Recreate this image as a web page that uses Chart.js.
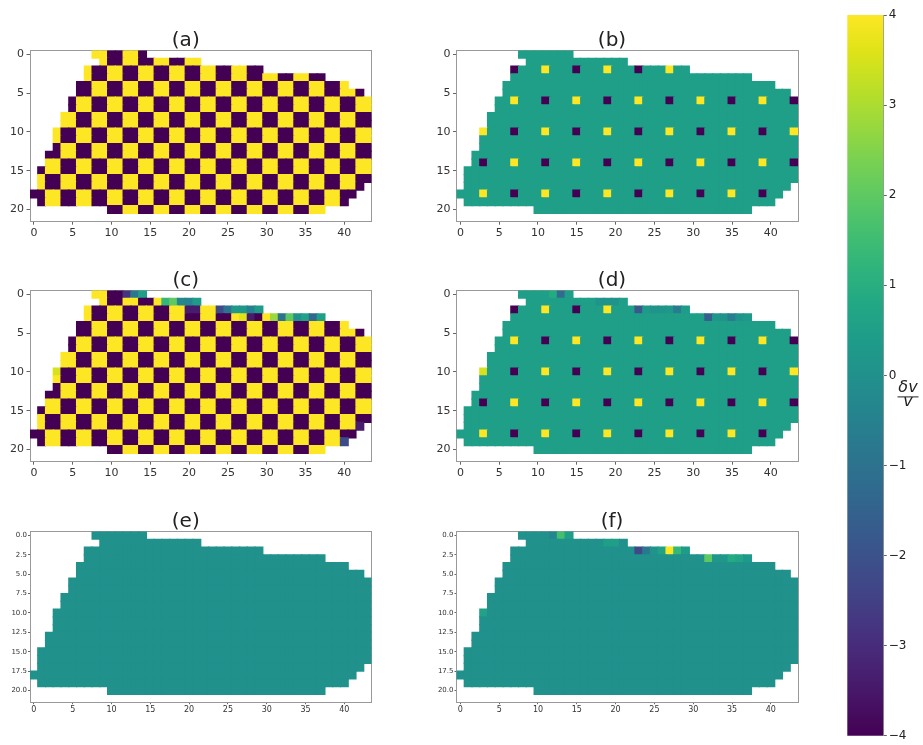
<!DOCTYPE html>
<html>
<head>
<meta charset="utf-8">
<script src="https://cdn.jsdelivr.net/npm/chart.js@4.4.1/dist/chart.umd.min.js"></script>
<style>
  html, body { margin: 0; padding: 0; background: #fff; }
  body { width: 923px; height: 745px; position: relative; overflow: hidden; }
  canvas { position: absolute; }
</style>
</head>
<body>
<canvas id="pa" width="390" height="225" style="left:0px;top:20px"></canvas>
<canvas id="pb" width="390" height="225" style="left:426px;top:20px"></canvas>
<canvas id="pc" width="390" height="225" style="left:0px;top:260px"></canvas>
<canvas id="pd" width="390" height="225" style="left:426px;top:260px"></canvas>
<canvas id="pe" width="390" height="225" style="left:0px;top:501px"></canvas>
<canvas id="pf" width="390" height="225" style="left:426px;top:501px"></canvas>
<canvas id="cbar" width="83" height="745" style="left:840px;top:0px"></canvas>
<script>
// first filled column of each row (rows 0..20), last filled column
const rowStart = [8, 9, 7, 7, 6, 6, 5, 5, 4, 4, 3, 3, 3, 2, 2, 1, 1, 1, 0, 1, 10]
const rowEnd = [14, 21, 29, 37, 40, 42, 43, 43, 43, 43, 43, 43, 43, 43, 43, 43, 43, 42, 41, 40, 37]

// (a) checkerboard, Y = +4, P = -4, each string starts at rowStart
const checkerRows = [
  "YYPPYYP",
  "YPPYYPPYYPPYY",
  "YPPYYPPYYPPYYPPYYPPYYPP",
  "YPPYYPPYYPPYYPPYYPPYYPPYYPPYYPP",
  "PPYYPPYYPPYYPPYYPPYYPPYYPPYYPPYYPPY",
  "PPYYPPYYPPYYPPYYPPYYPPYYPPYYPPYYPPYYP",
  "PYYPPYYPPYYPPYYPPYYPPYYPPYYPPYYPPYYPPYY",
  "PYYPPYYPPYYPPYYPPYYPPYYPPYYPPYYPPYYPPYY",
  "YYPPYYPPYYPPYYPPYYPPYYPPYYPPYYPPYYPPYYPP",
  "YYPPYYPPYYPPYYPPYYPPYYPPYYPPYYPPYYPPYYPP",
  "YPPYYPPYYPPYYPPYYPPYYPPYYPPYYPPYYPPYYPPYY",
  "YPPYYPPYYPPYYPPYYPPYYPPYYPPYYPPYYPPYYPPYY",
  "PYYPPYYPPYYPPYYPPYYPPYYPPYYPPYYPPYYPPYYPP",
  "PPYYPPYYPPYYPPYYPPYYPPYYPPYYPPYYPPYYPPYYPP",
  "YYPPYYPPYYPPYYPPYYPPYYPPYYPPYYPPYYPPYYPPYY",
  "PYYPPYYPPYYPPYYPPYYPPYYPPYYPPYYPPYYPPYYPPYY",
  "YPPYYPPYYPPYYPPYYPPYYPPYYPPYYPPYYPPYYPPYYPP",
  "YPPYYPPYYPPYYPPYYPPYYPPYYPPYYPPYYPPYYPPYYP",
  "PPYYPPYYPPYYPPYYPPYYPPYYPPYYPPYYPPYYPPYYPP",
  "PYYPPYYPPYYPPYYPPYYPPYYPPYYPPYYPPYYPPYYP",
  "PPYYPPYYPPYYPPYYPPYYPPYYPPYY"
]
const checkerValue = { Y: 4, P: -4 }

// (c) = checkerboard with these cells changed  [row, col, value]
const cSpots = [
  [0, 12, -2.8], [0, 13, -0.8], [0, 14, 0.5],
  [1, 17, 1.3], [1, 18, 2.0], [1, 19, -0.3], [1, 20, -0.4], [1, 21, 0.4],
  [2, 20, -3.4], [2, 21, -3.4], [2, 24, -2.2], [2, 25, -1.0], [2, 26, 0.3], [2, 27, 0.2], [2, 28, -0.5], [2, 29, 0.4],
  [3, 27, 3.6], [3, 28, -3.4], [3, 31, 2.8], [3, 32, -1.0], [3, 33, 2.0], [3, 34, 0.0], [3, 35, 0.6], [3, 36, -1.3], [3, 37, 0.5],
  [10, 3, 3.5], [17, 42, -3.4], [19, 40, -2.2]
]

// (b) flat background with isolated spots
const bBase = 0.5
const bSpots = [
  [2, 7, -4], [2, 11, 4], [2, 15, -4], [2, 19, 4], [2, 23, -4], [2, 27, 4],
  [6, 7, 4], [6, 11, -4], [6, 15, 4], [6, 19, -4], [6, 23, 4], [6, 27, -4], [6, 31, 4], [6, 35, -4], [6, 39, 4], [6, 43, -4],
  [10, 3, 4], [10, 7, -4], [10, 11, 4], [10, 15, -4], [10, 19, 4], [10, 23, -4], [10, 27, 4], [10, 31, -4], [10, 35, 4], [10, 39, -4], [10, 43, 4],
  [14, 3, -4], [14, 7, 4], [14, 11, -4], [14, 15, 4], [14, 19, -4], [14, 23, 4], [14, 27, -4], [14, 31, 4], [14, 35, -4], [14, 39, 4], [14, 43, -4],
  [18, 3, 4], [18, 7, -4], [18, 11, 4], [18, 15, -4], [18, 19, 4], [18, 23, -4], [18, 27, 4], [18, 31, -4], [18, 35, 4], [18, 39, -4]
]

// (d)
const dBase = 0.5
const dSpots = [
  [0, 12, 0.9], [0, 13, -1.2],
  [1, 18, 0.1], [1, 19, 0.1], [1, 20, 0.1],
  [2, 7, -4], [2, 11, 4], [2, 15, -4], [2, 19, 4], [2, 23, -1.8], [2, 24, 0.3], [2, 25, 0.1], [2, 26, 0.1], [2, 27, 0.2], [2, 28, -0.7], [2, 29, 0.4],
  [3, 32, -1.6], [3, 33, 0.2], [3, 34, 0.1], [3, 35, -0.6], [3, 36, 0.1], [3, 37, 0.3],
  [6, 7, 4], [6, 11, -4], [6, 15, 4], [6, 19, -4], [6, 23, 4], [6, 27, -4], [6, 31, 4], [6, 35, -4], [6, 39, 4], [6, 43, -4],
  [10, 3, 3.5], [10, 7, -4], [10, 11, 4], [10, 15, -4], [10, 19, 4], [10, 23, -4], [10, 27, 4], [10, 31, -4], [10, 35, 4], [10, 39, -4], [10, 43, 4],
  [14, 3, -4], [14, 7, 4], [14, 11, -4], [14, 15, 4], [14, 19, -4], [14, 23, 4], [14, 27, -4], [14, 31, 4], [14, 35, -4], [14, 39, 4], [14, 43, -4],
  [18, 3, 4], [18, 7, -4], [18, 11, 4], [18, 15, -4], [18, 19, 4], [18, 23, -4], [18, 27, 4], [18, 31, -4], [18, 35, 4], [18, 39, -4]
]

// (e)
const eBase = 0
const eSpots = []

// (f)
const fBase = 0
const fSpots = [
  [0, 12, -0.3], [0, 13, 1.6], [0, 14, 0.5],
  [1, 19, 0.5], [1, 20, 0.5],
  [2, 23, -2.3], [2, 24, -0.8], [2, 25, 0.1], [2, 26, 0.6], [2, 27, 4], [2, 28, 1.3], [2, 29, 0.4],
  [3, 32, 2.0], [3, 33, 0.2], [3, 34, 0.2], [3, 35, 0.9], [3, 36, 0.7], [3, 37, 0.3],
  [10, 3, 0.6]
]

const panelTitles = ["(a)", "(b)", "(c)", "(d)", "(e)", "(f)"]
const xTickVals = [0, 5, 10, 15, 20, 25, 30, 35, 40]
const yTickVals = [0, 5, 10, 15, 20]
const yTickValsFine = [0, 2.5, 5, 7.5, 10, 12.5, 15, 17.5, 20]
const yTickLabelsFine = ["0.0", "2.5", "5.0", "7.5", "10.0", "12.5", "15.0", "17.5", "20.0"]
const cbTickVals = [-4, -3, -2, -1, 0, 1, 2, 3, 4]
const cbTickLabels = ["\u22124", "\u22123", "\u22122", "\u22121", "0", "1", "2", "3", "4"]
const cbLabelTop = "\u03b4v"
const cbLabelBottom = "v"

const FONT = "'DejaVu Sans', sans-serif"
Chart.defaults.font.family = FONT
Chart.defaults.animation = false

// viridis colour map
const viridisStops = ["#440154", "#471365", "#482475", "#463480", "#414487", "#3b528b", "#355f8d", "#2f6c8e", "#2a788e", "#25848e",
  "#21918c", "#1e9c89", "#22a884", "#2fb47c", "#44bf70", "#5ec962", "#7ad151", "#9bd93c", "#bddf26", "#dfe318", "#fde725"]
function hexRgb(h) {
  return [parseInt(h.slice(1, 3), 16), parseInt(h.slice(3, 5), 16), parseInt(h.slice(5, 7), 16)]
}
const viridisRgb = viridisStops.map(hexRgb)
function viridis(v) {
  let t = (v + 4) / 8
  t = Math.max(0, Math.min(1, t))
  const pos = t * (viridisRgb.length - 1)
  const i = Math.min(Math.floor(pos), viridisRgb.length - 2)
  const f = pos - i
  const a = viridisRgb[i], b = viridisRgb[i + 1]
  const c = a.map((x, k) => Math.round(x + (b[k] - x) * f))
  return "rgb(" + c.join(",") + ")"
}

function cellsFromRows(rows, spots) {
  const cells = []
  rows.forEach((s, r) => {
    for (let k = 0; k < s.length && rowStart[r] + k <= rowEnd[r]; k++) {
      cells.push({ x: rowStart[r] + k, y: r, v: checkerValue[s[k]] })
    }
  })
  spots.forEach(([r, c, v]) => {
    const cell = cells.find(p => p.x === c && p.y === r)
    if (cell) cell.v = v
  })
  return cells
}

function cellsFromBase(base, spots) {
  const cells = []
  for (let r = 0; r < rowStart.length; r++) {
    for (let c = rowStart[r]; c <= rowEnd[r]; c++) {
      cells.push({ x: c, y: r, v: base })
    }
  }
  spots.forEach(([r, c, v]) => {
    const cell = cells.find(p => p.x === c && p.y === r)
    if (cell) cell.v = v
  })
  return cells
}

// half a cell, plus a little overlap so neighbours leave no seam
function cellRadius(ctx) {
  const s = ctx.chart.scales.x
  return (s.getPixelForValue(1) - s.getPixelForValue(0) + 1.2) / Math.SQRT2
}

function makePanel(id, title, cells, small, left) {
  const tickFont = small ? 8 : 11
  const yFont = small ? 7 : 11
  return new Chart(document.getElementById(id), {
    type: "scatter",
    data: {
      datasets: [{
        data: cells,
        pointStyle: "rect",
        borderWidth: 0,
        pointRadius: cellRadius,
        pointHoverRadius: cellRadius,
        backgroundColor: (ctx) => viridis(ctx.raw ? ctx.raw.v : 0)
      }]
    },
    options: {
      responsive: false,
      events: [],
      layout: { autoPadding: false, padding: { left: 0, right: left ? 18.5 : 18, top: 0, bottom: 3.8 } },
      plugins: {
        legend: { display: false },
        tooltip: { enabled: false },
        title: {
          display: true, text: title, color: "#222",
          font: { size: 20, weight: "normal", lineHeight: 1 },
          padding: { top: 10.5, bottom: 0 }
        }
      },
      scales: {
        x: {
          type: "linear", position: "bottom", min: -0.5, max: 43.5,
          afterBuildTicks: (s) => { s.ticks = xTickVals.map(v => ({ value: v })) },
          afterFit: (s) => { s.height = 20 },
          ticks: { color: "#333", font: { size: tickFont }, padding: small ? 1 : 2, maxRotation: 0, autoSkip: false },
          grid: { drawOnChartArea: false, tickLength: small ? 2 : 3.5, color: "#666" },
          border: { color: "#999" }
        },
        y: {
          type: "linear", position: "left", reverse: true, min: -0.5, max: 21.5,
          afterBuildTicks: (s) => { s.ticks = (small ? yTickValsFine : yTickVals).map(v => ({ value: v })) },
          afterFit: (s) => { s.width = left ? 30 : 30.5 },
          ticks: {
            color: "#333", font: { size: yFont }, padding: small ? 1 : 2.5, autoSkip: false,
            callback: (v, i) => small ? yTickLabelsFine[i] : String(v)
          },
          grid: { drawOnChartArea: false, tickLength: small ? 2 : 3.5, color: "#666" },
          border: { color: "#999" }
        },
        x2: {
          type: "linear", position: "top", min: -0.5, max: 43.5,
          ticks: { display: false }, grid: { display: false, drawTicks: false },
          border: { color: "#999" },
          afterFit: (s) => { s.height = 0 }
        },
        y2: {
          type: "linear", position: "right", min: -0.5, max: 21.5,
          ticks: { display: false }, grid: { display: false, drawTicks: false },
          border: { color: "#999" },
          afterFit: (s) => { s.width = 0 }
        }
      }
    }
  })
}

makePanel("pa", panelTitles[0], cellsFromRows(checkerRows, []), false, true)
makePanel("pb", panelTitles[1], cellsFromBase(bBase, bSpots), false, false)
makePanel("pc", panelTitles[2], cellsFromRows(checkerRows, cSpots), false, true)
makePanel("pd", panelTitles[3], cellsFromBase(dBase, dSpots), false, false)
makePanel("pe", panelTitles[4], cellsFromBase(eBase, eSpots), true, true)
makePanel("pf", panelTitles[5], cellsFromBase(fBase, fSpots), true, false)

// colour bar
const fractionLabel = {
  id: "fractionLabel",
  afterDraw(chart) {
    const y = chart.scales.y
    const y0 = y.getPixelForValue(0)
    const ctx = chart.ctx
    const cx = 68
    ctx.save()
    ctx.fillStyle = "#222"
    ctx.strokeStyle = "#222"
    ctx.font = "italic 16px " + FONT
    ctx.textAlign = "center"
    ctx.textBaseline = "alphabetic"
    ctx.fillText(cbLabelTop, cx, y0 + 17)
    ctx.lineWidth = 1
    ctx.beginPath()
    ctx.moveTo(cx - 10.5, y0 + 21.5)
    ctx.lineTo(cx + 10.5, y0 + 21.5)
    ctx.stroke()
    ctx.fillText(cbLabelBottom, cx, y0 + 31)
    ctx.restore()
  }
}

new Chart(document.getElementById("cbar"), {
  type: "bar",
  data: {
    labels: [""],
    datasets: [{
      data: [[cbTickVals[0], cbTickVals[cbTickVals.length - 1]]],
      barPercentage: 1,
      categoryPercentage: 1,
      borderWidth: 0,
      backgroundColor: (ctx) => {
        const area = ctx.chart.chartArea
        if (!area) return "#21918c"
        const g = ctx.chart.ctx.createLinearGradient(0, area.bottom, 0, area.top)
        viridisStops.forEach((c, i) => g.addColorStop(i / (viridisStops.length - 1), c))
        return g
      }
    }]
  },
  options: {
    responsive: false,
    events: [],
    layout: { autoPadding: false, padding: { left: 7.3, right: 0, top: 15, bottom: 8.3 } },
    plugins: { legend: { display: false }, tooltip: { enabled: false } },
    scales: {
      x: { display: false },
      y: {
        position: "right", min: -4, max: 4,
        afterBuildTicks: (s) => { s.ticks = cbTickVals.map(v => ({ value: v })) },
        afterFit: (s) => { s.width = 39.7 },
        ticks: { color: "#222", font: { size: 12 }, padding: 2, autoSkip: false,
          callback: (v, i) => cbTickLabels[i] },
        grid: { drawOnChartArea: false, tickLength: 3.5, color: "#666" },
        border: { color: "#999" }
      }
    }
  },
  plugins: [fractionLabel]
})
</script>
</body>
</html>
